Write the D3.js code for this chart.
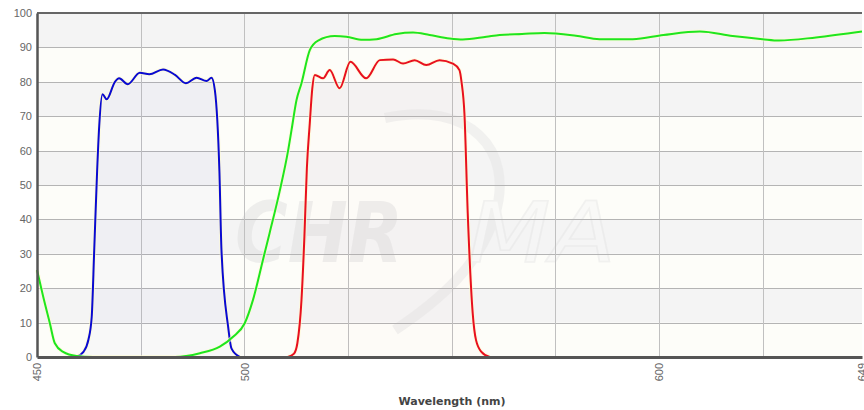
<!DOCTYPE html>
<html lang="en">
<head>
<meta charset="UTF-8">
<title>Filter spectra</title>
<script src="https://d3js.org/d3.v7.min.js"></script>
<style>
  body { margin: 0; background: #fff; }
  svg { display: block; font-family: 'DejaVu Sans', Verdana, sans-serif; }
  .tick text { fill: #666; font-size: 11px; }
</style>
</head>
<body>
<svg id="chart" width="864" height="410"></svg>
<script>
// excitation filter (blue)
const blueWl  = [459.5, 461.2, 462.4, 463.2, 463.8, 464.5, 465.0, 465.8, 466.8, 468.8, 469.8, 471.9, 474.8, 477.1, 480.4, 483.3, 485.9, 488.5, 490.9, 492.1, 492.9, 494.0, 494.5, 496.1, 496.9, 498.9];
const blueVal = [0, 1.5, 5, 11.7, 31, 54, 67, 76.4, 74.9, 80, 81, 79.3, 82.6, 82.2, 83.6, 82, 79.6, 81.2, 80.2, 81.2, 77.6, 54, 31, 8.8, 2.5, 0];

// dichroic (green)
const greenWl  = [450, 451.5, 453.1, 454.3, 456.3, 459.5, 463.5, 483.3, 489.3, 494.1, 497.3, 500.1, 502.1, 504.5, 506.1, 508.5, 510.6, 511.4, 512.6, 513.8, 515.8, 517.8, 521.8, 524.6, 528.6, 531.9, 536.7, 540.7, 544.7, 549.5, 552.7, 558.4, 561.6, 567, 572.4, 580, 585.7, 593.7, 601.1, 609.9, 617.8, 625, 629, 637.9, 649];
const greenVal = [25.3, 17.5, 9.8, 4, 1.5, 0.3, 0, 0, 1.1, 3, 5.9, 9.8, 16.6, 28.2, 36, 48, 60.2, 66, 74.7, 79.6, 89.2, 92, 93.3, 93.1, 92.2, 92.4, 93.9, 94.3, 93.6, 92.6, 92.3, 93.1, 93.6, 93.9, 94.2, 93.4, 92.4, 92.4, 93.6, 94.6, 93.3, 92.4, 92, 92.9, 94.6];

// emission filter (red)
const redWl  = [510.5, 512, 512.8, 513.8, 514.5, 515.1, 515.8, 516.4, 517, 519, 520.6, 523, 525.6, 529.4, 532.7, 535.9, 538.3, 541.1, 543.9, 547.1, 550.3, 551.9, 552.4, 553.1, 553.9, 555.1, 555.9, 557.2, 559.2];
const redVal = [0, 1, 4, 16.6, 35, 55, 68, 78, 82, 81, 83.4, 78.1, 85.8, 81, 86.3, 86.5, 85.3, 86.3, 84.9, 86.3, 85.3, 83.4, 80, 70.8, 41.8, 12.7, 4.9, 1.5, 0];

const xTicks = [450, 500, 600, 649];
const xGrid = [475, 500, 525, 550, 575, 600, 625];
const yTicks = [0, 10, 20, 30, 40, 50, 60, 70, 80, 90, 100];

const svg = d3.select("#chart");
const margin = {left: 37, right: 2, top: 13, bottom: 53};
const width = 864 - margin.left - margin.right;
const height = 410 - margin.top - margin.bottom;

const x = d3.scaleLinear().domain([450, 649]).range([margin.left, margin.left + width]);
const y = d3.scaleLinear().domain([0, 100]).range([margin.top + height, margin.top]);

// stripes
const bands = d3.range(0, 100, 10);
svg.append("g").selectAll("rect").data(bands).join("rect")
  .attr("x", x(450)).attr("width", x(649) - x(450))
  .attr("y", d => y(d + 10)).attr("height", d => y(d) - y(d + 10))
  .attr("fill", d => (d / 10) % 2 ? "#f4f4f4" : "#fdfdf9");

// watermark
const wm = svg.append("g").attr("opacity", 0.5);
wm.append("path")
  .attr("d", "M 385,118 C 470,100 515,150 495,215 C 480,265 440,300 395,330")
  .attr("fill", "none").attr("stroke", "#e6e6e6").attr("stroke-width", 10);
wm.append("text").attr("x", 235).attr("y", 262)
  .attr("font-size", 84).attr("font-weight", "bold").attr("font-style", "italic")
  .attr("textLength", 168).attr("lengthAdjust", "spacingAndGlyphs")
  .attr("fill", "#e0e0e0").text("CHR");
wm.append("text").attr("x", 468).attr("y", 262)
  .attr("font-size", 84).attr("font-style", "italic")
  .attr("textLength", 148).attr("lengthAdjust", "spacingAndGlyphs")
  .attr("fill", "#f6f6f6").attr("stroke", "#e6e6e6").attr("stroke-width", 1.5).text("MA");

// grid
svg.append("g").selectAll("line").data(yTicks.slice(1, -1)).join("line")
  .attr("x1", x(450)).attr("x2", x(649))
  .attr("y1", d => Math.round(y(d)) + 0.5).attr("y2", d => Math.round(y(d)) + 0.5)
  .attr("stroke", "#b4b4b4");
svg.append("g").selectAll("line").data(xGrid).join("line")
  .attr("x1", d => Math.round(x(d)) + 0.5).attr("x2", d => Math.round(x(d)) + 0.5)
  .attr("y1", y(0)).attr("y2", y(100))
  .attr("stroke", "#c0c0c0");

// curves
const series = [
  {wl: blueWl, val: blueVal, color: "#0a0ad0", fill: 0.018},
  {wl: greenWl, val: greenVal, color: "#1ee61e", fill: 0},
  {wl: redWl, val: redVal, color: "#e8101e", fill: 0.008}
];
const line = d3.line().x(d => x(d[0])).y(d => y(d[1])).curve(d3.curveMonotoneX);
const area = d3.area().x(d => x(d[0])).y0(y(0)).y1(d => y(d[1])).curve(d3.curveMonotoneX);

series.forEach(s => {
  const pts = s.wl.map((w, i) => [w, s.val[i]]);
  svg.append("path").datum(pts).attr("d", area)
    .attr("fill", s.color).attr("opacity", s.fill);
  svg.append("path").datum(pts).attr("d", line)
    .attr("fill", "none").attr("stroke", "#fffbd0").attr("stroke-width", 4).attr("opacity", 0.6);
  svg.append("path").datum(pts).attr("d", line)
    .attr("fill", "none").attr("stroke", s.color).attr("stroke-width", 2)
    .attr("stroke-linejoin", "round");
});

// frame
svg.append("line").attr("x1", x(450)).attr("x2", x(649)).attr("y1", y(100)).attr("y2", y(100))
  .attr("stroke", "#666").attr("stroke-width", 2);

// axes
const yAxis = svg.append("g").attr("transform", `translate(${x(450)},0)`)
  .attr("color", "#666")
  .call(d3.axisLeft(y).tickValues(yTicks).tickSize(0).tickPadding(5));
yAxis.select(".domain").attr("stroke", "#555").attr("stroke-width", 2.5);

const xAxis = svg.append("g").attr("transform", `translate(0,${y(0)})`)
  .attr("color", "#666")
  .call(d3.axisBottom(x).tickValues(xTicks).tickFormat(d3.format("d")).tickSize(0));
xAxis.select(".domain").attr("stroke", "#555").attr("stroke-width", 3);
xAxis.selectAll(".tick text")
  .attr("transform", "rotate(-90)")
  .attr("text-anchor", "end")
  .attr("x", -6).attr("y", 0).attr("dy", "0.35em");

svg.append("text")
  .attr("x", 452).attr("y", 405)
  .attr("text-anchor", "middle")
  .attr("font-size", 11).attr("font-weight", "bold").attr("fill", "#444")
  .text("Wavelength (nm)");
</script>
</body>
</html>
